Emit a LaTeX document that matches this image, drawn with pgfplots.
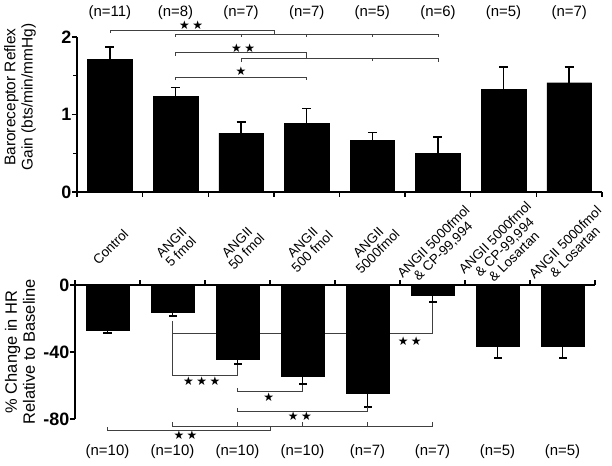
\documentclass[border=0pt]{standalone}
\usepackage{fontspec}
\setmainfont{Liberation Sans}
\newfontfamily\symfont{DejaVu Sans}
\usepackage{pgfplots}
\usepackage{pgfplotstable}
\pgfplotsset{compat=1.18}

\newcommand{\st}{{\symfont\fontsize{12}{12}\selectfont ★}}
\newcommand{\onestar}{\st}
\newcommand{\twostar}{\st\hspace{2.5bp}\st}
\newcommand{\threestar}{\st\hspace{2.5bp}\st\hspace{2.5bp}\st}

\pgfplotstableread{
x y e
0 1.71 0.16
1 1.23 0.12
2 0.76 0.14
3 0.89 0.19
4 0.67 0.10
5 0.50 0.21
6 1.32 0.29
7 1.41 0.20
}\gaindata

\pgfplotstableread{
x y e
0 -26.9 1.8
1 -16.1 2.4
2 -44.2 3.0
3 -54.3 4.8
4 -64.5 8.3
5 -6.0 4.1
6 -36.4 7.2
7 -36.4 7.2
}\hrdata

\tikzset{bkt/.style={line width=0.6bp, black!75}, nlab/.style={font=\fontsize{15}{15}\selectfont}}
\pgfplotsset{
  common/.style={
    scale only axis, anchor=south west, clip=false,
    xmin=-0.5, xmax=7.5,
    axis y line*=left,
    axis line style={-, line width=1.5bp, black},
    tick align=outside,
    major tick length=5bp, minor tick length=3.5bp,
    tick style={line width=1.4bp, black},
    xtick={-0.5,0.5,...,7.5},
    /pgf/number format/assume math mode=true,
    yticklabel style={font=\fontsize{18}{18}\selectfont\bfseries, inner xsep=0.5bp},
  },
}

\begin{document}
\begin{tikzpicture}
% ---------------- top panel ----------------
\begin{axis}[common,
  at={(77bp,274bp)}, width=525bp, height=155bp,
  ymin=0, ymax=2,
  axis x line*=bottom,
  ytick={0,1,2}, minor ytick={0.5,1.5},
  xticklabels={{Control},{ANGII\\5 fmol},{ANGII\\50 fmol},{ANGII\\500 fmol},{ANGII\\5000fmol},{ANGII 5000fmol\\\& CP-99,994},{ANGII 5000fmol\\\& CP-99,994\\\& Losartan},{ANGII 5000fmol\\\& Losartan},{}},
  xticklabel style={font=\fontsize{13.5}{13.5}\selectfont, align=center, xshift=33.5bp, yshift=-50bp, rotate=45, anchor=center},
  ylabel={Baroreceptor Reflex\\Gain (bts/min/mmHg)},
  ylabel style={at={(axis description cs:-0.1086,0.613)}, anchor=center, align=center, font=\fontsize{15.5}{17.5}\selectfont},
]
\addplot[ybar, bar width=0.68, fill=black, draw=black,
  error bars/.cd, y dir=plus, y explicit,
  error bar style={line width=1.5bp, black},
  error mark options={rotate=90, mark size=4.5bp, line width=1.5bp, black}]
  table[x=x, y=y, y error plus=e]{\gaindata};
% significance brackets
\draw[bkt] (axis cs:0,2.052)--(axis cs:0,2.090)--(axis cs:2.5,2.090)--(axis cs:2.5,2.039);
\draw[bkt] (axis cs:1,2.0)--(axis cs:1,2.039)--(axis cs:5,2.039)--(axis cs:5,2.0);
\draw[bkt] (axis cs:2,2.039)--(axis cs:2,2.0) (axis cs:3,2.039)--(axis cs:3,2.0) (axis cs:4,2.039)--(axis cs:4,2.0);
\node at (axis cs:1.24,2.155) {\twostar};
\draw[bkt] (axis cs:1,1.755)--(axis cs:1,1.806)--(axis cs:3,1.806)--(axis cs:3,1.729);
\draw[bkt] (axis cs:2,1.677)--(axis cs:2,1.729)--(axis cs:5,1.729)--(axis cs:5,1.677);
\draw[bkt] (axis cs:4,1.729)--(axis cs:4,1.69);
\node at (axis cs:2.03,1.858) {\twostar};
\draw[bkt] (axis cs:1,1.445)--(axis cs:1,1.484)--(axis cs:3,1.484)--(axis cs:3,1.445);
\node at (axis cs:2,1.561) {\onestar};
% group sizes
\node[nlab] at (axis cs:0,2.32) {(n=11)};
\node[nlab] at (axis cs:1,2.32) {(n=8)};
\node[nlab] at (axis cs:2,2.32) {(n=7)};
\node[nlab] at (axis cs:3,2.32) {(n=7)};
\node[nlab] at (axis cs:4,2.32) {(n=5)};
\node[nlab] at (axis cs:5,2.32) {(n=6)};
\node[nlab] at (axis cs:6,2.32) {(n=5)};
\node[nlab] at (axis cs:7,2.32) {(n=7)};
\end{axis}

% ---------------- bottom panel ----------------
\begin{axis}[common,
  at={(75bp,47bp)}, width=520bp, height=134bp,
  ymin=-80, ymax=0,
  axis x line*=top,
  ytick={0,-40,-80},
  xticklabels={},
  ylabel={\% Change in HR\\Relative to Baseline},
  ylabel style={at={(axis description cs:-0.1058,0.5)}, anchor=center, align=center, font=\fontsize{16.5}{18}\selectfont},
]
\draw[bkt] (axis cs:1,-21.5)--(axis cs:1,-53.7)--(axis cs:2,-53.7)--(axis cs:2,-46.6);
\draw[bkt] (axis cs:1,-28.7)--(axis cs:5,-28.7)--(axis cs:5,-10.1);
\addplot[ybar, bar width=0.66, fill=black, draw=black,
  error bars/.cd, y dir=minus, y explicit,
  error bar style={line width=1.5bp, black},
  error mark options={rotate=90, mark size=4bp, line width=1.5bp, black}]
  table[x=x, y=y, y error minus=e]{\hrdata};
\node at (axis cs:1.45,-57.3) {\threestar};
\node at (axis cs:4.65,-33.4) {\twostar};
\draw[bkt] (axis cs:2,-61.5)--(axis cs:2,-63.3)--(axis cs:3,-63.3)--(axis cs:3,-59.7);
\node at (axis cs:2.48,-66.9) {\onestar};
\draw[bkt] (axis cs:2,-73.4)--(axis cs:2,-75.2)--(axis cs:4,-75.2)--(axis cs:4,-72.8);
\node at (axis cs:2.96,-78.2) {\twostar};
\draw[bkt] (axis cs:1,-81.8)--(axis cs:1,-84.2)--(axis cs:5,-84.2)--(axis cs:5,-81.8);
\draw[bkt] (axis cs:2,-84.2)--(axis cs:2,-81.8) (axis cs:3,-84.2)--(axis cs:3,-81.8) (axis cs:4,-84.2)--(axis cs:4,-81.8);
\draw[bkt] (axis cs:0,-84.8)--(axis cs:0,-86.6)--(axis cs:2.5,-86.6)--(axis cs:2.5,-84.2);
\node at (axis cs:1.2,-89.6) {\twostar};
\node[nlab] at (axis cs:0,-99.7) {(n=10)};
\node[nlab] at (axis cs:1,-99.7) {(n=10)};
\node[nlab] at (axis cs:2,-99.7) {(n=10)};
\node[nlab] at (axis cs:3,-99.7) {(n=10)};
\node[nlab] at (axis cs:4,-99.7) {(n=7)};
\node[nlab] at (axis cs:5,-99.7) {(n=7)};
\node[nlab] at (axis cs:6,-99.7) {(n=5)};
\node[nlab] at (axis cs:7,-99.7) {(n=5)};
\end{axis}
\pgfresetboundingbox
\path (0,0) rectangle (612bp,466bp);
\end{tikzpicture}
\end{document}
